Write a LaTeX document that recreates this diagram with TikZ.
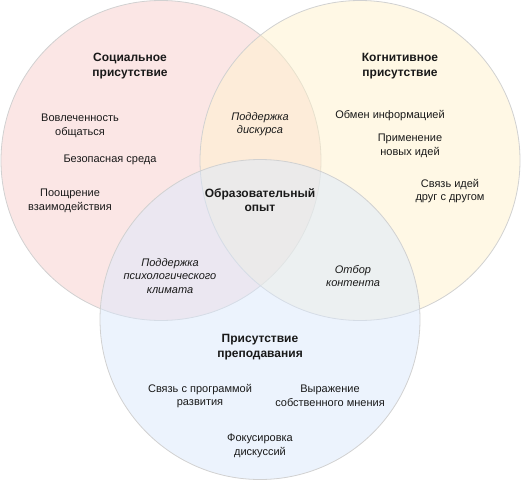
\documentclass[tikz,border=0pt]{standalone}
\usepackage{fontspec}
\setmainfont{Liberation Sans}
\begin{document}
\begin{tikzpicture}[x=1pt,y=-1pt,
  venn/.style={circle, minimum size=320pt, inner sep=0pt, draw=black!18, line width=0.8pt, fill opacity=0.5},
  txt/.style={align=center, inner sep=0pt, font=\fontsize{11}{13.5}\selectfont, text=black!90},
  itxt/.style={txt, font=\fontsize{11}{13.5}\selectfont\itshape},
  ttl/.style={align=center, inner sep=0pt, font=\fontsize{12}{14.5}\selectfont\bfseries, text=black!90}]
\useasboundingbox (0,0) rectangle (521,481);
\node[venn, fill={rgb,255:red,248;green,206;blue,204}] (red) at (161,160.5) {};
\node[venn, fill={rgb,255:red,255;green,242;blue,204}] (yel) at (360,160.5) {};
\node[venn, fill={rgb,255:red,218;green,232;blue,252}] (blu) at (260,319.5) {};

\node[ttl] (t1) at (130,66) {Социальное\\присутствие};
\node[txt] (a1) at (80,126) {Вовлеченность\\общаться};
\node[txt] (a2) at (110,160) {Безопасная среда};
\node[txt] (a3) at (70,201) {Поощрение\\взаимодействия};

\node[ttl] (t2) at (400,66) {Когнитивное\\присутствие};
\node[txt] (b1) at (390,116) {Обмен информацией};
\node[txt] (b2) at (410,146) {Применение\\новых идей};
\node[txt] (b3) at (450,191) {Связь идей\\друг с другом};

\node[itxt] (c1) at (260,124) {Поддержка\\дискурса};
\node[ttl] (c0) at (260,200) {Образовательный\\опыт};
\node[itxt] (c2) at (170,276) {Поддержка\\психологического\\климата};
\node[itxt] (c3) at (353,276) {Отбор\\контента};

\node[ttl] (t3) at (260,347) {Присутствие\\преподавания};
\node[txt] (d1) at (200,396) {Связь с программой\\развития};
\node[txt] (d2) at (330,396) {Выражение\\собственного мнения};
\node[txt] (d3) at (260,446) {Фокусировка\\дискуссий};
\end{tikzpicture}
\end{document}
